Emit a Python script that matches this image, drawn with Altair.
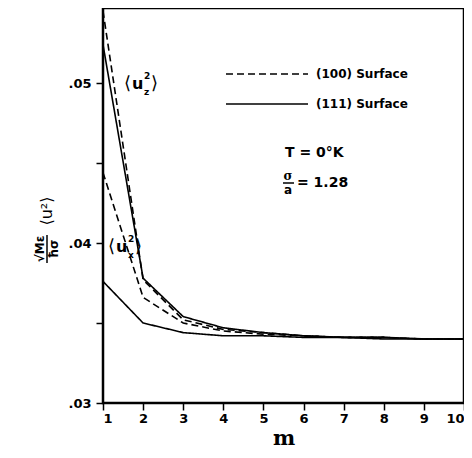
import altair as alt
import pandas as pd

m = list(range(1, 11))
uz100 = [0.0545, 0.0377, 0.0352, 0.0346, 0.0344, 0.0342, 0.0341, 0.0341, 0.0340, 0.0340]
uz111 = [0.0524, 0.0378, 0.0354, 0.0347, 0.0344, 0.0342, 0.0341, 0.0341, 0.0340, 0.0340]
ux100 = [0.0444, 0.0366, 0.0350, 0.0345, 0.0343, 0.0342, 0.0341, 0.0341, 0.0340, 0.0340]
ux111 = [0.0376, 0.0350, 0.0344, 0.0342, 0.0342, 0.0341, 0.0341, 0.0340, 0.0340, 0.0340]

series = {
    ("uz", "(100)"): uz100,
    ("uz", "(111)"): uz111,
    ("ux", "(100)"): ux100,
    ("ux", "(111)"): ux111,
}
rows = []
for (comp, surf), vals in series.items():
    for mi, v in zip(m, vals):
        rows.append({"m": mi, "u2": v, "comp": comp, "surface": surf, "key": comp + surf})
df = pd.DataFrame(rows)

y_ticks = [0.03, 0.035, 0.04, 0.045, 0.05]
FONT = "DejaVu Sans"

xscale = alt.Scale(domain=[1, 10], nice=False)
yscale = alt.Scale(domain=[0.03, 0.05469], nice=False, zero=False)

lines = alt.Chart(df).mark_line(color="black", strokeWidth=1.6).encode(
    x=alt.X("m:Q", scale=xscale,
            axis=alt.Axis(values=m, title="m", format="d", domain=False,
                          tickColor="black", tickSize=7, tickWidth=1.5,
                          labelFont=FONT, labelFontWeight="bold", labelFontSize=13,
                          labelColor="black", labelPadding=2, grid=False,
                          labelFlush=True, labelOverlap=False,
                          titleFont="DejaVu Serif", titleFontSize=21, titleFontWeight="bold",
                          titleColor="black", titlePadding=2)),
    y=alt.Y("u2:Q", scale=yscale,
            axis=alt.Axis(values=y_ticks, title=None, domain=False,
                          labelExpr="round(datum.value*200) % 2 == 0 ? replace(format(datum.value, '.2f'), '0.', '.') : ''",
                          tickColor="black", tickSize=7, tickWidth=1.5,
                          labelFont=FONT, labelFontWeight="bold", labelFontSize=13,
                          labelColor="black", labelPadding=5, grid=False)),
    detail="key:N",
    strokeDash=alt.StrokeDash("surface:N",
                              scale=alt.Scale(domain=["(100)", "(111)"], range=[[7, 4], [1, 0]]),
                              legend=None),
)

def txt(s, x, y, size=13, align="left", weight="bold", angle=0, font=FONT, baseline="middle"):
    kw = dict(text=s, align=align, baseline=baseline, fontSize=size, fontWeight=weight,
              font=font, color="black")
    if angle:
        kw["angle"] = angle
    return alt.Chart(pd.DataFrame({"a": [0]})).mark_text(**kw).encode(
        x=alt.value(x), y=alt.value(y))

def rule(x1, y1, x2, y2, dash=None, w=1.6):
    kw = dict(color="black", strokeWidth=w)
    if dash:
        kw["strokeDash"] = dash
    return alt.Chart(pd.DataFrame({"a": [0]})).mark_rule(**kw).encode(
        x=alt.value(x1), x2=alt.value(x2), y=alt.value(y1), y2=alt.value(y2))

annot = [
    # legend
    rule(123, 66, 205, 66, dash=[7, 4]),
    txt("(100) Surface", 213, 66, size=12),
    rule(123, 96, 205, 96),
    txt("(111) Surface", 213, 96, size=12),
    txt("T = 0°K", 182, 145, size=14),
    txt("σ", 185, 168, size=12, align="center", font="DejaVu Serif"),
    rule(180, 175, 191, 175, w=1.5),
    txt("a", 185, 182, size=12, align="center"),
    txt("= 1.28", 194, 175, size=14),
    # <uz^2>
    txt("⟨", 21, 76, size=18, weight="normal"),
    txt("u", 29, 76, size=16),
    txt("2", 41, 68, size=9),
    txt("z", 41, 84, size=9),
    txt("⟩", 48, 76, size=18, weight="normal"),
    # <ux^2>
    txt("⟨", 5, 239, size=18, weight="normal"),
    txt("u", 13, 239, size=16),
    txt("2", 25, 231, size=9),
    txt("x", 25, 247, size=9),
    txt("⟩", 32, 239, size=18, weight="normal"),
    # y-axis title
    txt("√Mε", -63, 241, size=12, align="center", angle=270),
    rule(-56, 227, -56, 255, w=1.5),
    txt("ħσ", -49, 241, size=12, align="center", angle=270),
    txt("⟨u²⟩", -56, 203, size=16, align="center", angle=270, weight="normal"),
]

chart = alt.layer(lines, *annot).properties(
    width=361, height=395,
    autosize=alt.AutoSizeParams(type="none"),
    padding={"left": 95, "top": 0, "right": 0, "bottom": 47},
    background="white",
).configure_view(stroke="black", strokeWidth=2.5)

chart.save("out.html", embed_options={"renderer": "svg", "actions": False})
